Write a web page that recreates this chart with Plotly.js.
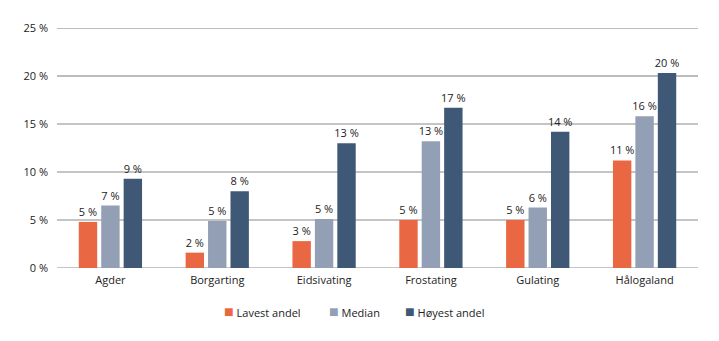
<!DOCTYPE html>
<html><head><meta charset="utf-8">
<script src="https://cdn.plot.ly/plotly-3.0.1.min.js"></script>
<style>html,body{margin:0;padding:0;background:#fff}</style>
</head><body><div id="chart" style="width:719px;height:341px"></div>
<script>
const categories = ["Agder","Borgarting","Eidsivating","Frostating","Gulating","Hålogaland"];
const lavest = [4.8, 1.6, 2.8, 5.0, 5.0, 11.2];
const median = [6.5, 4.9, 5.1, 13.2, 6.3, 15.8];
const hoyest = [9.3, 8.0, 13.0, 16.7, 14.2, 20.3];
const seriesNames = ["Lavest andel","Median","Høyest andel"];
const colors = ["#E96742","#929FB4","#3E5876"];
const tickVals = [0,5,10,15,20,25];
const tickText = ["0 %","5 %","10 %","15 %","20 %","25 %"];

const font = {family:"Open Sans, sans-serif", size:11, color:"#222"};
const traces = [lavest, median, hoyest].map((v,i)=>({
  type:"bar", x:categories, y:v, name:seriesNames[i],
  marker:{color:colors[i]},
  texttemplate:"%{y:.0f} %", textposition:"outside", cliponaxis:false,
  constraintext:"none",
  textfont:{family:font.family, size:11, color:"#222"},
  hoverinfo:"skip", showlegend:false
}));
// custom legend from series names/colors
const legendX = [0.258, 0.421, 0.54];
const annotations = seriesNames.map((n,i)=>({
  xref:"paper", yref:"paper", x:legendX[i], y:-0.18, xanchor:"left", yanchor:"middle",
  showarrow:false,
  text:'<span style="color:'+colors[i]+'; font-size:16px">■</span> '+n,
  font:font
}));
// gridlines: upper ones lighter and thicker, as in the reference
const shapes = tickVals.map(v=>({
  type:"line", xref:"paper", yref:"y", x0:0, x1:1, y0:v, y1:v, layer:"below",
  line:{color: v>=20 ? "#bdbdbd" : "#8a8a8a", width: v>=20 ? 2 : 1}
}));
const layout = {
  width:719, height:341,
  margin:{l:57, r:21, t:28, b:73, autoexpand:false},
  paper_bgcolor:"#fff", plot_bgcolor:"#fff",
  font:font,
  barmode:"group", bargap:0.37, bargroupgap:0.18,
  xaxis:{showgrid:false, showline:false, ticks:"", tickfont:font, ticklabelstandoff:4, automargin:false},
  yaxis:{range:[0,25], tickvals:tickVals, ticktext:tickText, showgrid:false,
         zeroline:false, showline:false, ticks:"", tickfont:font, ticklabelstandoff:8, automargin:false},
  showlegend:false,
  shapes:shapes,
  annotations:annotations
};
Plotly.newPlot("chart", traces, layout, {displayModeBar:false, staticPlot:true});
</script></body></html>
